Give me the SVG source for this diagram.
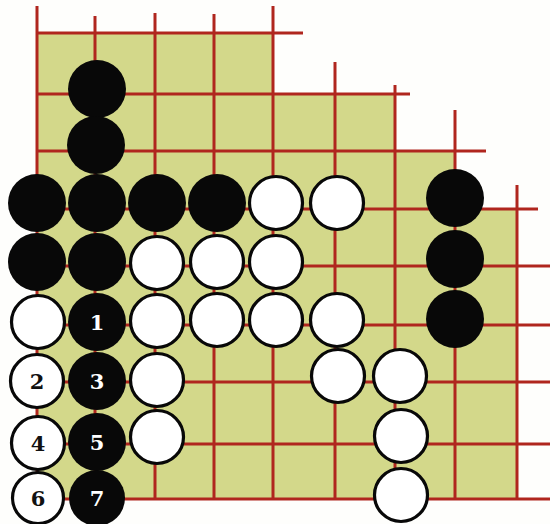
<svg xmlns="http://www.w3.org/2000/svg" width="550" height="524" viewBox="0 0 550 524">
<style>
.bg{fill:#fefefc}
.board{fill:#d3d88a}
.ln{stroke:#b0261e;stroke-width:3;fill:none;stroke-linecap:butt}
.b{fill:#080808}
.w{fill:#ffffff;stroke:#080808;stroke-width:3.2}
.nb{font-family:"DejaVu Serif","Liberation Serif",serif;font-weight:bold;font-size:21px;fill:#ffffff;text-anchor:middle}
.nw{font-family:"DejaVu Serif","Liberation Serif",serif;font-weight:bold;font-size:21px;fill:#111111;text-anchor:middle}
</style>
<rect class="bg" x="0" y="0" width="550" height="524"/>
<polygon class="board" points="37,33 273,33 273,94 395,94 395,151 455,151 455,209 517,209 517,499 37,499"/>
<g id="grid">
<path class="ln" d="M37,6V499 M95,16V499 M155,13V499 M214,14V499 M273,6V499 M335,62V499 M395,85V499 M455,110V499 M517,185V499"/>
<path class="ln" d="M37,33H303 M37,94H410 M37,151H486 M37,209H538 M37,266H550 M37,325H550 M37,382H550 M37,444H550 M37,499H550"/>
</g>
<g id="b1"><circle class="b" cx="97" cy="89" r="29"/></g>
<g id="b2"><circle class="b" cx="96" cy="145" r="29"/></g>
<g id="b3"><circle class="b" cx="37" cy="203" r="29"/></g>
<g id="b4"><circle class="b" cx="97" cy="203" r="29"/></g>
<g id="b5"><circle class="b" cx="157" cy="203" r="29"/></g>
<g id="b6"><circle class="b" cx="217" cy="203" r="29"/></g>
<g id="b7"><circle class="b" cx="37" cy="262" r="29"/></g>
<g id="b8"><circle class="b" cx="97" cy="262" r="29"/></g>
<g id="b9"><circle class="b" cx="455" cy="198" r="29"/></g>
<g id="b10"><circle class="b" cx="455" cy="259" r="29"/></g>
<g id="b11"><circle class="b" cx="455" cy="319" r="29"/></g>
<g id="w1"><circle class="w" cx="276" cy="203" r="26.5"/></g>
<g id="w2"><circle class="w" cx="337" cy="203" r="26.5"/></g>
<g id="w3"><circle class="w" cx="157" cy="263" r="26.5"/></g>
<g id="w4"><circle class="w" cx="217" cy="262" r="26.5"/></g>
<g id="w5"><circle class="w" cx="276" cy="262" r="26.5"/></g>
<g id="w6"><circle class="w" cx="38" cy="322" r="26.5"/></g>
<g id="w7"><circle class="w" cx="157" cy="321" r="26.5"/></g>
<g id="w8"><circle class="w" cx="217" cy="320" r="26.5"/></g>
<g id="w9"><circle class="w" cx="276" cy="320" r="26.5"/></g>
<g id="w10"><circle class="w" cx="337" cy="320" r="26.5"/></g>
<g id="w11"><circle class="w" cx="157" cy="380" r="26.5"/></g>
<g id="w12"><circle class="w" cx="157" cy="437" r="26.5"/></g>
<g id="w13"><circle class="w" cx="338" cy="376" r="26.5"/></g>
<g id="w14"><circle class="w" cx="400" cy="376" r="26.5"/></g>
<g id="w15"><circle class="w" cx="401" cy="436" r="26.5"/></g>
<g id="w16"><circle class="w" cx="401" cy="495" r="26.5"/></g>
<g id="m1"><circle class="b" cx="97" cy="322" r="29"/><text class="nb" x="97" y="330">1</text></g>
<g id="m2"><circle class="w" cx="37" cy="381" r="26.5"/><text class="nw" x="37" y="389">2</text></g>
<g id="m3"><circle class="b" cx="97" cy="381" r="29"/><text class="nb" x="97" y="389">3</text></g>
<g id="m4"><circle class="w" cx="38" cy="443" r="26.5"/><text class="nw" x="38" y="451">4</text></g>
<g id="m5"><circle class="b" cx="97" cy="442" r="29"/><text class="nb" x="97" y="450">5</text></g>
<g id="m6"><circle class="w" cx="38" cy="498" r="25.5"/><text class="nw" x="38" y="506">6</text></g>
<g id="m7"><circle class="b" cx="97" cy="498" r="28"/><text class="nb" x="97" y="506">7</text></g>
</svg>
